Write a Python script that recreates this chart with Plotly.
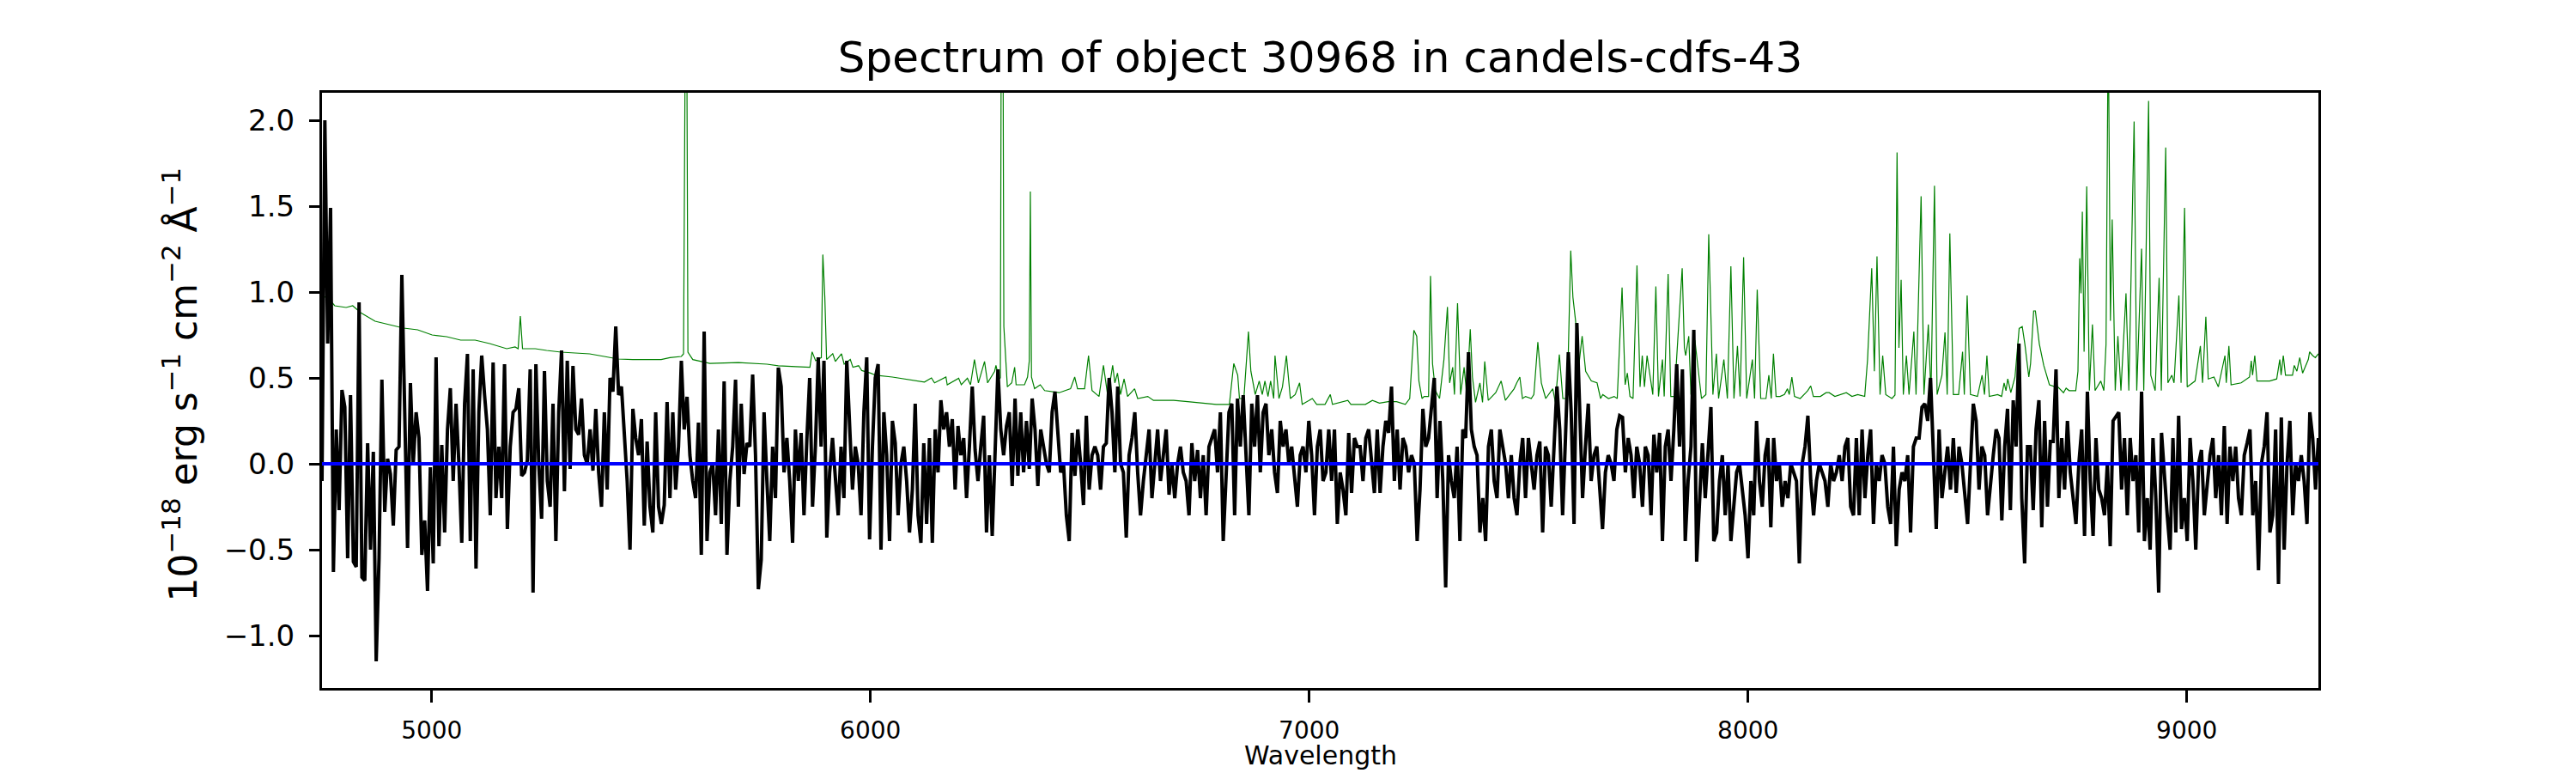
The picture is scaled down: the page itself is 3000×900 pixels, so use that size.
import numpy as np
import plotly.graph_objects as go

# object flux, 1e-18 erg/s/cm2/A, regular grid from 4750 A in 6.5 A steps
wave_start = 4750.0
wave_step = 6.5
flux = [
    -0.1, 2.0, 0.7, 1.49, -0.63, 0.2, -0.27, 0.43, 0.33, -0.55,
    0.4, -0.57, -0.6, 0.94, -0.66, -0.68, 0.12, -0.5, 0.07, -1.15,
    -0.55, 0.49, -0.28, 0.03, -0.06, -0.36, 0.08, 0.1, 1.1, 0.22,
    -0.49, 0.47, 0.0, 0.3, 0.15, -0.53, -0.33, -0.74, -0.02, -0.58,
    0.62, -0.48, 0.11, -0.4, 0.2, 0.44, -0.1, 0.35, 0.0, -0.46,
    0.35, 0.64, -0.45, 0.55, -0.61, 0.3, 0.63, 0.4, 0.2, -0.3,
    0.59, -0.2, 0.1, -0.2, 0.58, -0.38, 0.1, 0.3, 0.32, 0.44,
    -0.07, -0.05, 0.02, 0.55, -0.75, 0.58, 0.0, -0.32, 0.54, -0.1,
    -0.25, 0.35, -0.45, 0.3, 0.66, -0.16, 0.6, -0.03, 0.57, 0.2,
    0.17, 0.38, 0.05, 0.0, 0.2, -0.04, 0.32, -0.05, -0.25, 0.3,
    -0.15, 0.5, 0.42, 0.8, 0.4, 0.45, 0.15, -0.1, -0.5, 0.32,
    0.15, 0.05, 0.26, -0.36, 0.13, -0.25, -0.4, 0.3, -0.25,
    # 5523 A
    -0.35, -0.24, 0.36, -0.2, 0.3, -0.15, 0.1, 0.6, 0.2, 0.39,
    0.05, -0.1, -0.2, 0.24, -0.53, 0.77, -0.45, -0.05, 0.0, -0.3,
    0.2, -0.35, 0.48, -0.53, -0.1, 0.1, 0.49, -0.25, 0.35, -0.06,
    0.12, 0.1, 0.52, 0.05, -0.73, -0.56, 0.3, -0.1, -0.45, 0.1,
    -0.2, 0.56, 0.45, -0.05, 0.15, -0.1, -0.46, 0.2, -0.1, 0.18,
    -0.3, 0.14, 0.5, -0.25, 0.1, 0.62, 0.1, 0.6, -0.43, -0.05,
    0.15, -0.08, -0.3, 0.1, -0.2, 0.6, 0.2, -0.15, 0.1, 0.0,
    -0.3, 0.3, 0.62, -0.44, 0.1, 0.5, 0.58, -0.5, 0.3, 0.05,
    -0.45, 0.25, 0.12, -0.3, 0.0, 0.1, -0.1, -0.4, -0.15, 0.35,
    -0.3, -0.46, 0.12, -0.35, 0.15, -0.46, 0.2, -0.05, 0.37, 0.2,
    0.3, 0.1, 0.26, -0.15, 0.22, 0.05, 0.15, -0.2, 0.1, 0.45,
    0.08, -0.1, 0.1, 0.28, -0.4, 0.05, -0.42, 0.1,
    # 6290 A
    0.55, 0.2, 0.05, 0.22, 0.3, -0.13, 0.38, -0.07, 0.3, -0.05,
    0.25, -0.03, 0.38, 0.2, -0.13, 0.2, 0.1, 0.0, -0.05, 0.3,
    0.42, 0.15, -0.05, 0.0, -0.3, -0.45, 0.18, -0.07, 0.2, 0.0,
    -0.24, 0.28, -0.15, 0.05, 0.1, 0.05, -0.15, 0.1, 0.12, 0.5,
    0.3, -0.05, 0.45, 0.0, -0.05, -0.43, 0.05, 0.15, 0.3, -0.05,
    -0.3, -0.1, 0.05, 0.2, -0.2, 0.0, 0.2, -0.1, 0.05, 0.2,
    -0.18, 0.0, -0.2, 0.0, 0.1, -0.05, -0.1, -0.3, 0.12, -0.1,
    0.08, -0.2, 0.05, -0.3, 0.1, 0.15, 0.2, -0.05, 0.3, -0.45,
    -0.1, 0.3, 0.35, -0.3, 0.38, 0.1, 0.4, 0.0, -0.3, 0.35,
    0.1, 0.4, -0.05, 0.3, 0.35, 0.05, 0.2, -0.05, -0.17, 0.25,
    0.1, 0.2, 0.0, 0.1, -0.1, -0.25, 0.05, 0.1, -0.05, 0.25,
    0.05, -0.3, 0.1, 0.2, -0.1, -0.05, 0.2,
    # 7051 A
    -0.1, 0.2, -0.35, -0.05, -0.15, -0.3, 0.18, -0.17, 0.15, 0.1,
    0.1, -0.1, 0.15, 0.2, 0.0, -0.17, 0.2, -0.17, 0.1, 0.25,
    0.18, 0.45, -0.1, 0.2, -0.15, 0.15, 0.1, -0.05, 0.05, 0.0,
    -0.45, -0.15, 0.32, 0.1, 0.15, 0.35, 0.5, -0.2, 0.25, -0.1,
    -0.72, 0.05, -0.1, -0.2, 0.1, -0.45, 0.2, 0.15, 0.65, 0.2,
    0.1, 0.05, -0.4, -0.2, -0.45, 0.1, 0.2, -0.1, -0.2, 0.2,
    0.1, 0.0, -0.2, 0.05, -0.2, -0.3, 0.0, 0.15, -0.2, 0.15,
    0.0, -0.15, 0.05, 0.13, -0.4, 0.1, 0.05, -0.25, 0.1, 0.45,
    0.2, -0.3, 0.15, 0.65, 0.3, -0.35, 0.82, 0.3, -0.2, 0.1,
    0.35, -0.1, 0.05, 0.1, -0.15, -0.38, -0.05, 0.05, 0.0, -0.1,
    0.2, 0.28, 0.27, -0.05, 0.15, 0.05, -0.2, 0.1, 0.0, -0.25,
    0.1, 0.05, -0.3, 0.17, -0.05, 0.18, -0.45, 0.1,
    # 7818 A
    0.2, -0.1, 0.2, 0.58, 0.1, 0.55, -0.45, -0.1, 0.1, 0.78,
    -0.57, -0.25, 0.12, -0.2, 0.05, 0.33, -0.45, -0.4, -0.1, 0.05,
    -0.3, 0.0, -0.45, -0.25, -0.05, 0.0, -0.15, -0.3, -0.55, -0.1,
    -0.3, 0.25, -0.1, -0.25, 0.05, 0.15, -0.37, 0.15, -0.1, 0.0,
    -0.25, -0.1, -0.2, 0.0, -0.05, -0.1, -0.58, 0.0, 0.1, 0.28,
    -0.1, -0.3, -0.1, 0.0, -0.05, -0.1, -0.25, 0.0, -0.1, -0.05,
    0.05, -0.1, 0.1, 0.15, -0.25, -0.3, 0.15, -0.3, 0.2, -0.2,
    0.05, 0.2, -0.35, 0.0, -0.1, 0.05, 0.0, -0.25, -0.35, 0.1,
    -0.48, -0.15, -0.05, -0.1, 0.05, -0.4, 0.1, 0.15, 0.15, 0.33,
    0.35, 0.25, 0.5, 0.05, -0.38, 0.2, -0.2, -0.05, 0.1, -0.15,
    0.15, -0.17, 0.1, 0.0, -0.2, -0.35, 0.0, 0.35, 0.25, -0.15,
    0.1, 0.05, -0.3, -0.1, 0.05, 0.2, 0.15,
    # 8578 A
    -0.33, 0.1, 0.32, -0.27, 0.37, 0.1, 0.7, -0.2, -0.58, 0.1,
    0.1, -0.27, 0.2, 0.37, -0.37, 0.25, -0.25, 0.13, 0.13, 0.55,
    -0.2, 0.15, -0.15, 0.25, -0.05, -0.2, -0.35, 0.0, 0.2, -0.42,
    0.42, -0.1, -0.42, 0.15, -0.15, -0.2, -0.3, 0.0, -0.48, 0.25,
    0.28, 0.3, -0.15, 0.15, -0.3, 0.15, -0.1, 0.05, -0.4, 0.42,
    -0.45, -0.2, -0.5, 0.15, -0.2, -0.75, 0.18, -0.1, -0.3, -0.5,
    0.15, -0.4, 0.28, -0.38, -0.2, -0.45, 0.15, -0.1, -0.5, 0.0,
    0.08, -0.3, -0.1, 0.05, 0.15, -0.2, 0.05, -0.3, 0.22, -0.35,
    0.1, -0.1, 0.1, -0.2, -0.3, 0.05, 0.12, 0.2, -0.3, -0.1,
    -0.62, 0.0, 0.1, 0.3, -0.4, -0.3, 0.2, -0.7, 0.27, -0.5,
    0.0, 0.25, -0.3, 0.0, -0.1, 0.05, -0.1, -0.35, 0.3, 0.15,
    -0.15, 0.15,
]
wave = wave_start + wave_step * np.arange(len(flux))

sky_wave = [
    4750, 4766, 4779, 4805, 4820, 4838, 4871, 4903, 4936, 4968, 5001, 5034,
    5066, 5099, 5132, 5171, 5190, 5197, 5202, 5207, 5236, 5262, 5295, 5327,
    5360, 5393, 5425, 5458, 5523, 5543, 5569, 5574, 5577, 5580, 5584, 5595,
    5634, 5699, 5764, 5790, 5830, 5862, 5867, 5875, 5888, 5891.5, 5896, 5900,
    5914, 5920, 5934, 5940, 5954, 5960, 5973, 5980, 6000, 6012, 6050, 6090,
    6123, 6139, 6146, 6172, 6175, 6201, 6207, 6221, 6228, 6237, 6246, 6260,
    6267, 6283, 6286, 6293, 6296, 6299, 6301, 6304, 6307, 6312, 6322, 6328.6,
    6332, 6351, 6358, 6362, 6364.4, 6367, 6374, 6387, 6397, 6430, 6456, 6465.5,
    6472, 6488, 6497, 6505, 6521, 6531, 6541, 6552, 6557, 6563, 6570, 6578,
    6586, 6602, 6609, 6632, 6645, 6691, 6723, 6756, 6788, 6818, 6828, 6837,
    6841, 6851, 6861.5, 6867, 6877, 6886, 6893, 6899, 6906, 6912, 6919, 6922,
    6931, 6939, 6948, 6957, 6968, 6978, 6984, 7007, 7017, 7036, 7048, 7053,
    7088, 7095, 7128, 7144, 7160, 7180, 7199, 7219, 7229, 7238.5, 7245, 7250,
    7257, 7262, 7272, 7276.4, 7281, 7287.5, 7297, 7307, 7315, 7320, 7327, 7331,
    7338, 7345, 7353, 7359, 7367, 7372, 7379, 7389, 7395, 7400, 7408, 7425,
    7437.5, 7447, 7467, 7473, 7480, 7486, 7493, 7506, 7512, 7521, 7529, 7539,
    7555, 7561, 7570, 7578, 7588, 7596, 7601, 7607, 7614, 7622, 7630, 7643,
    7656, 7664, 7669, 7682, 7695, 7702, 7713, 7720, 7725, 7731, 7738, 7747,
    7754, 7759, 7764, 7770, 7777, 7783, 7790, 7796, 7805, 7809, 7818, 7824,
    7832, 7850, 7855, 7858, 7865, 7870, 7879, 7888, 7894, 7904, 7910.5, 7916,
    7920, 7928, 7933, 7945, 7953, 7961, 7968, 7976, 7982, 7990, 7997, 8010,
    8015, 8021, 8029, 8041, 8047.5, 8053, 8058, 8064, 8073, 8083, 8090, 8094,
    8100, 8106, 8119, 8132, 8136, 8143, 8149, 8165, 8178, 8185, 8198, 8224,
    8237, 8250, 8266, 8272.5, 8277, 8282, 8288, 8294, 8301, 8307, 8314, 8328,
    8335, 8339.7, 8344, 8349, 8354, 8361, 8367, 8378, 8383, 8394.5, 8401, 8411,
    8417, 8425, 8431, 8442, 8449, 8454, 8460, 8468, 8480, 8489, 8493, 8499.5,
    8507, 8523, 8533.5, 8539, 8544.5, 8550, 8569, 8578, 8583.7, 8588, 8592, 8599,
    8608.5, 8618, 8625, 8631, 8640, 8644, 8651, 8655, 8664, 8674, 8687, 8700,
    8706, 8719, 8725, 8732, 8747, 8752, 8756, 8759, 8762, 8766, 8772, 8778,
    8785, 8791, 8804, 8811, 8816, 8821, 8826, 8830, 8837, 8843, 8850, 8861.5,
    8868, 8880, 8886, 8897, 8902, 8913, 8918, 8928, 8937, 8942, 8952, 8957,
    8966, 8971, 8982, 8987, 8995, 9001, 9019, 9031, 9036, 9043.5, 9049, 9062,
    9072, 9087, 9090, 9096, 9101, 9124, 9143, 9147, 9150, 9155, 9160, 9189,
    9205, 9212, 9215, 9220, 9225, 9241, 9245, 9251, 9257.5, 9264, 9277, 9280,
    9287, 9293, 9300,
]
sky_flux = [
    0.98, 0.96, 0.92, 0.91, 0.92, 0.88, 0.83, 0.81, 0.79, 0.78, 0.75, 0.74,
    0.72, 0.72, 0.70, 0.67, 0.68, 0.67, 0.86, 0.67, 0.67, 0.66, 0.65, 0.645,
    0.64, 0.625, 0.61, 0.607, 0.607, 0.618, 0.625, 0.64, 3.5, 3.5, 0.65, 0.607,
    0.584, 0.589, 0.58, 0.571, 0.566, 0.562, 0.652, 0.6, 0.618, 1.218, 0.969, 0.607,
    0.641, 0.596, 0.641, 0.58, 0.607, 0.562, 0.571, 0.543, 0.528, 0.516, 0.505, 0.489,
    0.476, 0.5, 0.471, 0.505, 0.46, 0.498, 0.46, 0.498, 0.46, 0.607, 0.471, 0.596,
    0.471, 0.539, 0.573, 0.494, 0.5, 3.5, 3.5, 0.8, 0.652, 0.448, 0.471, 0.562,
    0.46, 0.46, 0.505, 0.6, 1.585, 0.505, 0.437, 0.46, 0.426, 0.414, 0.437, 0.505,
    0.437, 0.437, 0.63, 0.426, 0.392, 0.573, 0.392, 0.573, 0.471, 0.528, 0.403, 0.494,
    0.392, 0.437, 0.38, 0.392, 0.369, 0.369, 0.362, 0.353, 0.346, 0.346, 0.584, 0.516,
    0.38, 0.38, 0.77, 0.539, 0.403, 0.482, 0.403, 0.482, 0.392, 0.482, 0.38, 0.63,
    0.38, 0.448, 0.63, 0.38, 0.403, 0.471, 0.346, 0.38, 0.346, 0.346, 0.403, 0.346,
    0.369, 0.346, 0.346, 0.369, 0.353, 0.362, 0.362, 0.346, 0.38, 0.777, 0.743, 0.482,
    0.38, 0.392, 0.392, 1.094, 0.584, 0.426, 0.38, 0.607, 0.913, 0.471, 0.562, 0.403,
    0.935, 0.403, 0.562, 0.403, 0.783, 0.505, 0.358, 0.471, 0.358, 0.596, 0.369, 0.414,
    0.482, 0.369, 0.437, 0.471, 0.505, 0.38, 0.392, 0.38, 0.403, 0.709, 0.471, 0.38,
    0.437, 0.358, 0.636, 0.38, 0.38, 1.241, 0.969, 0.833, 0.562, 0.743, 0.539, 0.482,
    0.471, 0.38, 0.403, 0.38, 0.392, 0.38, 1.026, 0.46, 0.528, 0.392, 0.38, 1.155,
    0.448, 0.63, 0.448, 0.63, 0.494, 0.403, 1.033, 0.392, 0.607, 0.392, 1.105, 0.392,
    0.392, 1.139, 0.675, 0.63, 0.743, 0.403, 0.72, 0.494, 0.38, 0.403, 1.336, 0.811,
    0.403, 0.641, 0.38, 0.607, 0.38, 1.15, 0.38, 0.686, 0.392, 1.202, 0.38, 0.607,
    0.38, 1.014, 0.38, 0.38, 0.516, 0.38, 0.641, 0.392, 0.392, 0.403, 0.437, 0.403,
    0.505, 0.392, 0.38, 0.414, 0.426, 0.453, 0.392, 0.392, 0.414, 0.414, 0.392, 0.414,
    0.392, 0.403, 0.392, 0.607, 0.833, 1.139, 0.539, 1.207, 0.403, 0.63, 0.403, 0.38,
    0.4, 1.812, 0.675, 1.071, 0.403, 0.63, 0.403, 0.77, 0.403, 1.558, 0.403, 0.811,
    0.403, 1.619, 0.403, 0.516, 0.765, 0.403, 1.341, 0.403, 0.403, 0.652, 0.403, 0.98,
    0.403, 0.392, 0.516, 0.403, 0.63, 0.392, 0.403, 0.392, 0.471, 0.426, 0.494, 0.414,
    0.505, 0.788, 0.799, 0.697, 0.505, 0.584, 0.89, 0.89, 0.697, 0.573, 0.46, 0.448,
    0.448, 0.414, 0.44, 0.426, 0.426, 0.539, 1.196, 0.992, 1.467, 0.652, 1.615, 0.426,
    0.811, 0.426, 0.482, 0.426, 0.697, 2.6, 0.833, 1.422, 0.426, 0.743, 0.426, 0.992,
    0.426, 1.993, 0.426, 1.252, 0.426, 2.113, 0.516, 0.426, 1.082, 0.426, 1.841, 0.471,
    0.516, 0.471, 0.98, 0.471, 1.49, 0.448, 0.482, 0.686, 0.471, 0.856, 0.494, 0.505,
    0.448, 0.63, 0.471, 0.686, 0.46, 0.471, 0.505, 0.6, 0.516, 0.63, 0.482, 0.482,
    0.494, 0.607, 0.516, 0.63, 0.516, 0.516, 0.573, 0.539, 0.618, 0.528, 0.607, 0.652,
    0.63, 0.618, 0.64,
]

zero_wave = [4750, 9300]
zero_level = [0.0, 0.0]

x_ticks = [5000, 6000, 7000, 8000, 9000]
y_ticks = [-1.0, -0.5, 0.0, 0.5, 1.0, 1.5, 2.0]

FONT = "DejaVu Sans"

fig = go.Figure()
fig.add_trace(go.Scatter(x=sky_wave, y=sky_flux, mode="lines",
                         line=dict(color="#008000", width=1.2)))
fig.add_trace(go.Scatter(x=wave, y=flux, mode="lines",
                         line=dict(color="black", width=4)))
fig.add_trace(go.Scatter(x=zero_wave, y=zero_level, mode="lines",
                         line=dict(color="#0000ff", width=4)))

axis_style = dict(showgrid=False, zeroline=False, showline=True, mirror=True,
                  linecolor="black", linewidth=3, ticks="outside",
                  tickcolor="black", tickwidth=2.5)

fig.update_xaxes(range=[4750, 9300], tickvals=x_ticks, ticklen=14,
                 ticklabelstandoff=8,
                 tickfont=dict(family=FONT, size=28, color="black"),
                 **axis_style)
fig.update_yaxes(range=[-1.305, 2.16], tickvals=y_ticks, tickformat=".1f",
                 ticklen=12, ticklabelstandoff=10,
                 tickfont=dict(family=FONT, size=34, color="black"),
                 **axis_style)

# the page body has an 8 px margin, so the margins are trimmed by 8 px
fig.update_layout(
    width=3000, height=900,
    margin=dict(l=367, r=308, t=100, b=107),
    paper_bgcolor="white", plot_bgcolor="white",
    showlegend=False,
    title=dict(text="Spectrum of object 30968 in candels-cdfs-43",
               font=dict(family=FONT, size=50, color="black"),
               x=0.5, xref="paper", xanchor="center",
               y=1 - 58 / 900, yref="container", yanchor="middle"),
    annotations=[
        dict(text="Wavelength", xref="paper", yref="paper", x=0.5, y=-0.085,
             xanchor="center", yanchor="top", showarrow=False,
             font=dict(family=FONT, size=30, color="black")),
        dict(text="10<sup>\u221218</sup> erg s<sup>\u22121</sup> "
                  "cm<sup>\u22122</sup> \u00c5<sup>\u22121</sup>",
             xref="paper", yref="paper", x=-0.071, y=0.51,
             xanchor="center", yanchor="middle", textangle=-90,
             showarrow=False, font=dict(family=FONT, size=44, color="black")),
    ],
)

fig.write_html("out.html")
